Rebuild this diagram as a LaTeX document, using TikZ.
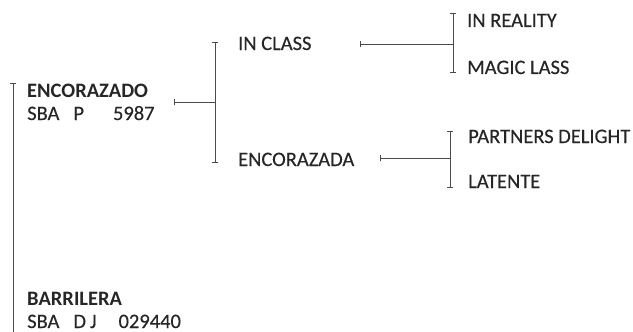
\documentclass[tikz,border=0pt]{standalone}
\usepackage{fontspec}
\setmainfont{Carlito}
\newfontface\plainfont{Carlito}[FakeBold=0.3]
\usetikzlibrary{arrows.meta, positioning, calc}
\definecolor{inkgray}{HTML}{262626}
\definecolor{linegray}{HTML}{4A4A4A}

\begin{document}
\begin{tikzpicture}[
        x=1pt, y=-1pt,
        every node/.style={inner sep=0pt, anchor=base west, text=inkgray, font=\fontsize{20.5}{23}\selectfont\plainfont},
        sire/.style={font=\fontsize{20.5}{23}\selectfont\bfseries},
        stem/.style={draw=linegray, line width=1pt, {Bar[width=6.5pt]}-},
        bracket/.style={draw=linegray, line width=1pt, {Bar[width=6.5pt]}-{Bar[width=6.5pt]}}
    ]
    \useasboundingbox (0,0) rectangle (633,332);
    % first generation
    \node[sire] (enc) at (27,97) {ENCORAZADO};
    \node (encid) at (27,120) {SBA\hspace{14pt}P\hspace{29pt}5987};
    \node[sire] (bar) at (27,305) {BARRILERA};
    \node (barid) at (27,328) {SBA\hspace{14pt}D\hspace{4pt}J\hspace{22pt}029440};
    % second generation
    \node (incl) at (238,50) {IN CLASS};
    \node (enca) at (238,166) {ENCORAZADA};
    % third generation
    \node (inre) at (467,27) {IN REALITY};
    \node (magi) at (467,74) {MAGIC LASS};
    \node (part) at (468,143) {PARTNERS DELIGHT};
    \node (late) at (468,188) {LATENTE};
    % bracket ends and stems
    \coordinate (b1top) at (13,83);
    \coordinate (b1bot) at (13,340);
    \coordinate (b2top) at (215,42);
    \coordinate (b2bot) at (215,163);
    \coordinate (b3top) at (453,13);
    \coordinate (b3bot) at (453,73);
    \coordinate (b4top) at (450,131);
    \coordinate (b4bot) at (450,188);
    \coordinate (s2) at (174,102);
    \coordinate (s3) at (360,44);
    \coordinate (s4) at (380,158);
    \draw[bracket] (b1top) -- (b1bot);
    \draw[bracket] (b2top) -- (b2bot);
    \draw[bracket] (b3top) -- (b3bot);
    \draw[bracket] (b4top) -- (b4bot);
    \draw[stem] (s2) -- (s2 -| b2top);
    \draw[stem] (s3) -- (s3 -| b3top);
    \draw[stem] (s4) -- (s4 -| b4top);
\end{tikzpicture}
\end{document}
